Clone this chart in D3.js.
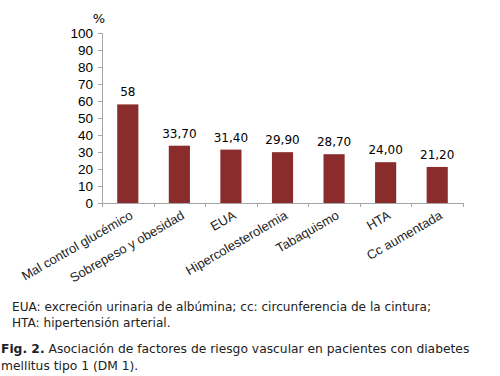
<!DOCTYPE html>
<html>
<head>
<meta charset="utf-8">
<script src="https://cdn.jsdelivr.net/npm/d3@7"></script>
<style>
body { margin:0; background:#fff; }
svg { font-family: "DejaVu Sans", Verdana, sans-serif; }
</style>
</head>
<body>
<div id="chart"></div>
<script>
var categories = ["Mal control glucémico", "Sobrepeso y obesidad", "EUA", "Hipercolesterolemia", "Tabaquismo", "HTA", "Cc aumentada"];
var values = [58, 33.7, 31.4, 29.9, 28.7, 24.0, 21.2];
var valueLabels = ["58", "33,70", "31,40", "29,90", "28,70", "24,00", "21,20"];
var yTicks = [0, 10, 20, 30, 40, 50, 60, 70, 80, 90, 100];
var notes = ["EUA: excreción urinaria de albúmina; cc: circunferencia de la cintura;", "HTA: hipertensión arterial."];

var margin = { left:102, top:33 };
var w = 361, h = 170;

var svg = d3.select("#chart")
    .append("svg")
    .attr("width", 500)
    .attr("height", 376);

var g = svg.append("g")
    .attr("transform", "translate(" + margin.left + "," + margin.top + ")");

var xScale = d3.scaleBand()
    .domain(categories)
    .range([0, w])
    .paddingInner(0.59)
    .paddingOuter(0.295);

var yScale = d3.scaleLinear()
    .domain([0, 100])
    .range([h, 0]);

// y axis
var yAxis = g.append("g")
    .attr("class", "y axis")
    .call(d3.axisLeft(yScale).tickValues(yTicks).tickSize(4).tickPadding(5));
yAxis.select(".domain").attr("stroke", "#a6a6a6").attr("d", "M-4,0.5H0.5V" + (h + 0.5));
yAxis.selectAll(".tick line").attr("stroke", "#a6a6a6");
yAxis.selectAll("text").attr("font-size", 13.5).attr("fill", "#000");

// % label
g.append("text")
    .attr("x", -3)
    .attr("y", -10)
    .attr("text-anchor", "middle")
    .attr("font-size", 13)
    .text("%");

// bars
g.selectAll(".bar")
    .data(values)
    .enter().append("rect")
    .attr("class", "bar")
    .attr("x", function(d, i) { return xScale(categories[i]); })
    .attr("y", function(d) { return yScale(d); })
    .attr("width", xScale.bandwidth())
    .attr("height", function(d) { return h - yScale(d); })
    .attr("fill", "#8b2c2c");

// value labels
g.selectAll(".val")
    .data(values)
    .enter().append("text")
    .attr("class", "val")
    .attr("x", function(d, i) { return xScale(categories[i]) + xScale.bandwidth() / 2; })
    .attr("y", function(d) { return yScale(d) - 8; })
    .attr("text-anchor", "middle")
    .attr("font-size", 12)
    .text(function(d, i) { return valueLabels[i]; });

// x axis
var xAxis = g.append("g")
    .attr("class", "x axis")
    .attr("transform", "translate(0," + h + ")")
    .call(d3.axisBottom(xScale).tickSize(0).tickPadding(0));
xAxis.select(".domain").attr("stroke", "#a6a6a6").attr("d", "M0,0.5H" + w);
// category separators
xAxis.selectAll(".sep")
    .data(d3.range(categories.length + 1))
    .enter().append("line")
    .attr("class", "sep")
    .attr("x1", function(i) { return Math.round(i * w / categories.length) + 0.5; })
    .attr("x2", function(i) { return Math.round(i * w / categories.length) + 0.5; })
    .attr("y1", 0)
    .attr("y2", 4)
    .attr("stroke", "#a6a6a6");
xAxis.selectAll(".tick text")
    .attr("font-size", 13)
    .attr("fill", "#222")
    .attr("text-anchor", "end")
    .attr("dy", 0)
    .attr("transform", "translate(6,15) rotate(-30)");

// footnotes
var foot = svg.append("g").attr("font-size", 12.1).attr("fill", "#222");
foot.selectAll(".note")
    .data(notes)
    .enter().append("text")
    .attr("class", "note")
    .attr("x", 12)
    .attr("y", function(d, i) { return 311 + i * 16; })
    .text(function(d) { return d; });

var cap = svg.append("text")
    .attr("font-size", 12.3)
    .attr("fill", "#222")
    .attr("x", 1)
    .attr("y", 353);
cap.append("tspan").attr("font-weight", "bold").text("Fig. 2.");
cap.append("tspan").text(" Asociación de factores de riesgo vascular en pacientes con diabetes");
svg.append("text")
    .attr("font-size", 12.3)
    .attr("fill", "#222")
    .attr("x", 1)
    .attr("y", 370)
    .text("mellitus tipo 1 (DM 1).");
</script>
</body>
</html>
